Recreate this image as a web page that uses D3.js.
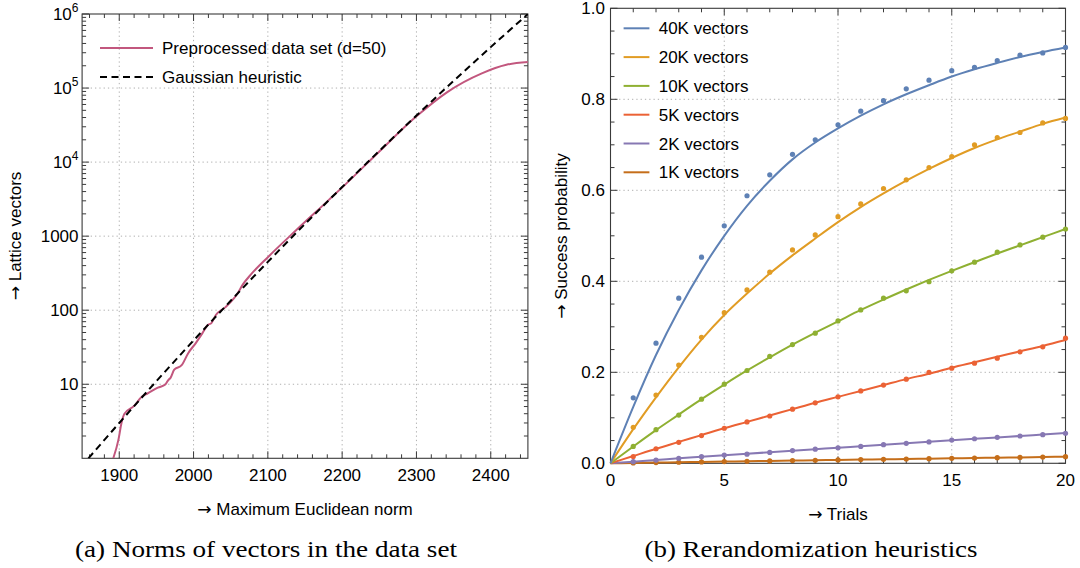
<!DOCTYPE html>
<html><head><meta charset="utf-8">
<script src="https://cdn.jsdelivr.net/npm/d3@7"></script>
<style>
html,body{margin:0;padding:0;background:#fff;}
svg{display:block;}
text{font-family:"Liberation Sans",Arial,sans-serif;fill:#000;}
.cap{font-family:"Liberation Serif","Times New Roman",serif;}
.arr{font-family:"DejaVu Sans",sans-serif;}
</style></head>
<body>
<svg id="chart" width="1080" height="568"></svg>
<script>
// ---------- Data: panel (a) ----------
const normTicks = [1900, 2000, 2100, 2200, 2300, 2400];
const latticeTicks = [10, 100, 1000, 1e4, 1e5, 1e6];
const latticeTickLabels = ["10", "100", "1000", ["10","4"], ["10","5"], ["10","6"]];
const preNorm = [1892,1899,1903,1907,1920,1931,1938,1952,1962,1966,1969,1974,1984,1993,2003,2012,2019,2024,2030,2043,2054,2059,2066,2077,2101,2138,2180,2203,2249,2300,2342,2388,2421,2450];
const preCount = [1,1.8,3.0,4.0,5.1,6.9,7.5,9.0,9.9,11.4,12.2,15.7,18.1,26.5,36,49,63,67,86,110,143,167,220,302,532,1200,2950,4850,13600,41500,89000,158000,206000,224000];
const gaussNorm = [1858.5,1900,1950,2000,2050,2100,2200,2300,2400,2450];
const gaussCount = [1,3.0,11,39,134,450,4600,42500,357000,1000000];
const legendA = ["Preprocessed data set (d=50)", "Gaussian heuristic"];

// ---------- Data: panel (b) ----------
const trialTicks = [0, 5, 10, 15, 20];
const probTicks = [0.0, 0.2, 0.4, 0.6, 0.8, 1.0];
const dotTrials = [1,2,3,4,5,6,7,8,9,10,11,12,13,14,15,16,17,18,19,20];
const curveTrials = [0,1,2,3,4,5,6,7,8,9,10,11,12,13,14,15,16,17,18,19,20];
const seriesNames = ["40K vectors","20K vectors","10K vectors","5K vectors","2K vectors","1K vectors"];
const seriesColors = ["#5E81B5","#E19C24","#8FB032","#EB6235","#8778B3","#C56E1A"];
const dots40K = [0.144,0.264,0.363,0.453,0.522,0.588,0.634,0.679,0.711,0.744,0.774,0.797,0.823,0.842,0.863,0.870,0.885,0.897,0.902,0.914];
const dots20K = [0.079,0.150,0.216,0.277,0.331,0.381,0.420,0.469,0.502,0.542,0.570,0.604,0.623,0.650,0.674,0.700,0.716,0.727,0.748,0.758];
const dots10K = [0.037,0.074,0.106,0.141,0.174,0.204,0.235,0.261,0.286,0.313,0.337,0.363,0.379,0.399,0.423,0.442,0.464,0.480,0.497,0.515];
const dots5K  = [0.015,0.032,0.046,0.061,0.077,0.091,0.104,0.119,0.133,0.146,0.159,0.172,0.185,0.200,0.209,0.220,0.231,0.245,0.256,0.275];
const dots2K  = [0.0035,0.007,0.011,0.0145,0.018,0.020,0.024,0.028,0.031,0.034,0.037,0.041,0.044,0.047,0.051,0.054,0.057,0.060,0.063,0.066];
const dots1K  = [0.0008,0.0015,0.0023,0.003,0.0038,0.0045,0.0052,0.006,0.0067,0.0074,0.0081,0.0088,0.0095,0.0102,0.011,0.0117,0.0124,0.013,0.0137,0.0145];
const fit40K = [0,0.124,0.238,0.337,0.424,0.500,0.566,0.621,0.668,0.705,0.736,0.764,0.789,0.811,0.831,0.850,0.866,0.880,0.893,0.904,0.914];
const fit20K = [0,0.075,0.145,0.211,0.272,0.326,0.373,0.417,0.457,0.494,0.530,0.563,0.593,0.621,0.647,0.671,0.693,0.712,0.729,0.746,0.760];
const fit10K = [0,0.037,0.073,0.107,0.141,0.173,0.204,0.233,0.261,0.287,0.312,0.337,0.360,0.382,0.403,0.423,0.442,0.461,0.479,0.497,0.515];
const fit5K  = [0,0.016,0.032,0.047,0.062,0.077,0.091,0.105,0.119,0.133,0.146,0.159,0.172,0.185,0.197,0.210,0.222,0.234,0.246,0.258,0.271];
const fit2K  = [0,0.0035,0.007,0.011,0.0143,0.0177,0.021,0.0243,0.0277,0.031,0.0343,0.0375,0.0408,0.044,0.0472,0.0505,0.0537,0.0569,0.06,0.0632,0.0664];
const fit1K  = [0,0.0008,0.0015,0.0023,0.003,0.0038,0.0045,0.0052,0.006,0.0067,0.0074,0.0081,0.0088,0.0095,0.0102,0.011,0.0117,0.0124,0.013,0.0137,0.0145];
const dotSeries = [dots40K, dots20K, dots10K, dots5K, dots2K, dots1K];
const fitSeries = [fit40K, fit20K, fit10K, fit5K, fit2K, fit1K];

const captions = ["(a) Norms of vectors in the data set", "(b) Rerandomization heuristics"];

// ---------- Drawing ----------
const svg = d3.select("#chart");
const FRAME = "#3a3a3a", GRID = "#b0b0b0", FS = 17;

function frameTicks(g, x, y, xMajor, xMinor, yMajor, yMinor) {
  const [x0, x1] = x.range(), [y0, y1] = y.range();
  const tk = g.append("g").attr("stroke", FRAME).attr("stroke-width", 1);
  const ML = 7, MN = 4;
  xMajor.forEach(v => { const p = x(v);
    tk.append("line").attr("x1", p).attr("x2", p).attr("y1", y0).attr("y2", y0 - ML);
    tk.append("line").attr("x1", p).attr("x2", p).attr("y1", y1).attr("y2", y1 + ML); });
  xMinor.forEach(v => { const p = x(v);
    tk.append("line").attr("x1", p).attr("x2", p).attr("y1", y0).attr("y2", y0 - MN);
    tk.append("line").attr("x1", p).attr("x2", p).attr("y1", y1).attr("y2", y1 + MN); });
  yMajor.forEach(v => { const p = y(v);
    tk.append("line").attr("y1", p).attr("y2", p).attr("x1", x0).attr("x2", x0 + ML);
    tk.append("line").attr("y1", p).attr("y2", p).attr("x1", x1).attr("x2", x1 - ML); });
  yMinor.forEach(v => { const p = y(v);
    tk.append("line").attr("y1", p).attr("y2", p).attr("x1", x0).attr("x2", x0 + MN);
    tk.append("line").attr("y1", p).attr("y2", p).attr("x1", x1).attr("x2", x1 - MN); });
  g.append("rect").attr("x", x0).attr("y", y1).attr("width", x1 - x0).attr("height", y0 - y1)
    .attr("fill", "none").attr("stroke", FRAME).attr("stroke-width", 1.1);
}
function grid(g, x, y, xs, ys) {
  const [x0, x1] = x.range(), [y0, y1] = y.range();
  const gg = g.append("g").attr("stroke", GRID).attr("stroke-width", 1).attr("stroke-dasharray", "1.3,3");
  xs.forEach(v => gg.append("line").attr("x1", x(v)).attr("x2", x(v)).attr("y1", y0).attr("y2", y1));
  ys.forEach(v => gg.append("line").attr("y1", y(v)).attr("y2", y(v)).attr("x1", x0).attr("x2", x1));
}
function arrowLabel(sel, label) {
  sel.append("tspan").attr("class", "arr").text("→");
  sel.append("tspan").text(" " + label);
}

// ===== Panel (a) =====
{
  const x = d3.scaleLinear().domain([1850, 2450]).range([82.1, 527.9]);
  const y = d3.scaleLog().domain([1, 1e6]).range([458.3, 14]);
  const g = svg.append("g");
  svg.append("clipPath").attr("id", "clipA").append("rect")
    .attr("x", 82.1).attr("y", 14).attr("width", 527.9 - 82.1).attr("height", 458.3 - 14);
  grid(g, x, y, normTicks, latticeTicks.filter(v => v < 1e6));
  const xMinor = d3.range(1860, 2450, 20).filter(v => !normTicks.includes(v));
  const yMinor = [];
  [1, 10, 100, 1000, 1e4, 1e5].forEach(d => { for (let k = 2; k <= 9; k++) yMinor.push(d * k); });
  frameTicks(g, x, y, normTicks, xMinor, latticeTicks, yMinor);

  const line = d3.line().x(d => x(d[0])).y(d => y(d[1])).curve(d3.curveMonotoneX);
  const plot = g.append("g").attr("clip-path", "url(#clipA)");
  plot.append("path").datum(preNorm.map((v, i) => [v, preCount[i]]))
    .attr("d", line).attr("fill", "none").attr("stroke", "#C2577E").attr("stroke-width", 2);
  plot.append("path").datum(gaussNorm.map((v, i) => [v, gaussCount[i]]))
    .attr("d", line).attr("fill", "none").attr("stroke", "#000").attr("stroke-width", 2)
    .attr("stroke-dasharray", "7,4.5");

  normTicks.forEach(v => g.append("text").attr("x", x(v)).attr("y", 481).attr("text-anchor", "middle")
    .attr("font-size", FS).text(v));
  latticeTicks.forEach((v, i) => {
    const lab = latticeTickLabels[i];
    const t = g.append("text").attr("x", 78.5).attr("y", y(v) + 6).attr("text-anchor", "end").attr("font-size", FS);
    if (Array.isArray(lab)) {
      t.append("tspan").text(lab[0]);
      t.append("tspan").attr("font-size", 12).attr("dy", -8).text(lab[1]);
    } else t.text(lab);
  });
  arrowLabel(g.append("text").attr("x", 305).attr("y", 515).attr("text-anchor", "middle").attr("font-size", FS),
    "Maximum Euclidean norm");
  arrowLabel(g.append("text").attr("transform", "translate(21,236) rotate(-90)").attr("text-anchor", "middle")
    .attr("font-size", FS), "Lattice vectors");

  const lg = g.append("g");
  lg.append("line").attr("x1", 100).attr("x2", 153).attr("y1", 48).attr("y2", 48)
    .attr("stroke", "#C2577E").attr("stroke-width", 2);
  lg.append("line").attr("x1", 100).attr("x2", 153).attr("y1", 77).attr("y2", 77)
    .attr("stroke", "#000").attr("stroke-width", 2).attr("stroke-dasharray", "7,4.5");
  legendA.forEach((s, i) => lg.append("text").attr("x", 162).attr("y", 54 + i * 29).attr("font-size", FS).text(s));

  svg.append("text").attr("class", "cap").attr("x", 266).attr("y", 557).attr("text-anchor", "middle")
    .attr("font-size", 24).attr("textLength", 382).attr("lengthAdjust", "spacingAndGlyphs").text(captions[0]);
}

// ===== Panel (b) =====
{
  const x = d3.scaleLinear().domain([0, 20]).range([610.5, 1065.5]);
  const y = d3.scaleLinear().domain([0, 1]).range([463.3, 8.3]);
  const g = svg.append("g");
  grid(g, x, y, [5, 10, 15], [0.2, 0.4, 0.6, 0.8]);
  const xMinor = d3.range(1, 20).filter(v => v % 5 !== 0);
  const yMinor = d3.range(1, 20).filter(v => v % 4 !== 0).map(v => v * 0.05);
  frameTicks(g, x, y, trialTicks, xMinor, probTicks, yMinor);

  const line = d3.line().x((d, i) => x(curveTrials[i])).y(d => y(d)).curve(d3.curveMonotoneX);
  for (let s = fitSeries.length - 1; s >= 0; s--) {
    const col = seriesColors[s];
    g.append("path").datum(fitSeries[s]).attr("d", line).attr("fill", "none")
      .attr("stroke", col).attr("stroke-width", 2);
    g.append("g").selectAll("circle").data(dotSeries[s]).join("circle")
      .attr("cx", (d, i) => x(dotTrials[i])).attr("cy", d => y(d)).attr("r", 2.6).attr("fill", col);
  }

  trialTicks.forEach(v => g.append("text").attr("x", x(v)).attr("y", 486).attr("text-anchor", "middle")
    .attr("font-size", FS).text(v));
  probTicks.forEach(v => g.append("text").attr("x", 605).attr("y", y(v) + 6).attr("text-anchor", "end")
    .attr("font-size", FS).text(d3.format(".1f")(v)));
  arrowLabel(g.append("text").attr("x", 838).attr("y", 520).attr("text-anchor", "middle").attr("font-size", FS), "Trials");
  arrowLabel(g.append("text").attr("transform", "translate(567,236) rotate(-90)").attr("text-anchor", "middle")
    .attr("font-size", FS), "Success probability");

  seriesNames.forEach((s, i) => {
    const yy = 28.3 + i * 28.8;
    g.append("line").attr("x1", 623.6).attr("x2", 649.4).attr("y1", yy).attr("y2", yy)
      .attr("stroke", seriesColors[i]).attr("stroke-width", 2);
    g.append("text").attr("x", 658.7).attr("y", yy + 6).attr("font-size", FS).text(s);
  });

  svg.append("text").attr("class", "cap").attr("x", 811).attr("y", 557).attr("text-anchor", "middle")
    .attr("font-size", 24).attr("textLength", 333).attr("lengthAdjust", "spacingAndGlyphs").text(captions[1]);
}
</script>
</body></html>
